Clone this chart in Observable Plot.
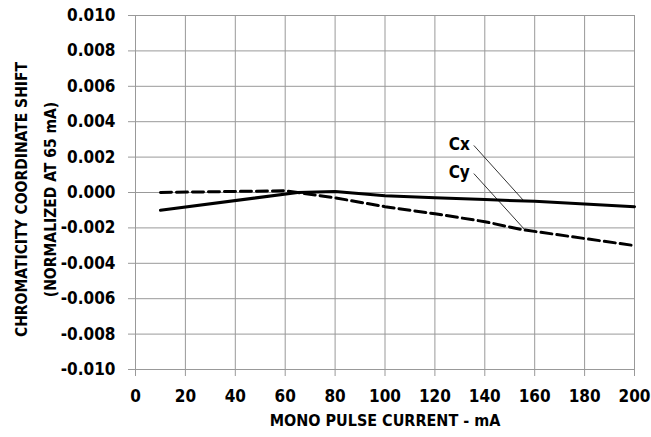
<!DOCTYPE html>
<html><head><meta charset="utf-8">
<script src="https://cdn.jsdelivr.net/npm/d3@7"></script>
<script src="https://cdn.jsdelivr.net/npm/@observablehq/plot@0.6"></script>
<style>
body{margin:0;background:#fff}
svg{font-family:"Liberation Sans Narrow","DejaVu Sans Condensed",sans-serif;font-weight:bold}
</style>
</head><body><div id="chart"></div>
<script>
const cxCurrent = [10, 65, 80, 100, 120, 140, 160, 180, 200];
const cxShift   = [-0.001, 0, 0.00005, -0.00018, -0.0003, -0.0004, -0.0005, -0.00065, -0.0008];
const cyCurrent = [10, 60, 65, 80, 100, 120, 140, 155, 180, 200];
const cyShift   = [0, 0.0001, 0, -0.0003, -0.0008, -0.0012, -0.00165, -0.0021, -0.0026, -0.003];
const xTicks = [0, 20, 40, 60, 80, 100, 120, 140, 160, 180, 200];
const yTicks = [-0.010, -0.008, -0.006, -0.004, -0.002, 0, 0.002, 0.004, 0.006, 0.008, 0.010];
const seriesNames = ["Cx", "Cy"];
const labelCurrent = [134, 134];
const labelShift = [0.0027, 0.0011];
const leaderFrom = [[135.6, 0.00266], [135.6, 0.00107]];
const leaderTo = [[155.5, -0.00045], [156, -0.0021]];
const xTitle = "MONO PULSE CURRENT - mA";
const yTitle = "CHROMATICITY COORDINATE SHIFT\n(NORMALIZED AT 65 mA)";

const cxData = cxCurrent.map((c, i) => ({current: c, shift: cxShift[i]}));
const cyData = cyCurrent.map((c, i) => ({current: c, shift: cyShift[i]}));
const notes = seriesNames.map((n, i) => ({
  name: n, x: labelCurrent[i], y: labelShift[i],
  x1: leaderFrom[i][0], y1: leaderFrom[i][1], x2: leaderTo[i][0], y2: leaderTo[i][1]
}));

const FS = 17;
const chart = Plot.plot({
  width: 651, height: 437,
  marginLeft: 135, marginRight: 17, marginTop: 15, marginBottom: 68,
  style: {fontFamily: '"Liberation Sans Narrow","DejaVu Sans Condensed",sans-serif', fontWeight: "bold", background: "#fff"},
  x: {domain: [0, 200]},
  y: {domain: [-0.01, 0.01]},
  marks: [
    Plot.gridX(xTicks, {stroke: "#999", strokeOpacity: 1, strokeWidth: 1}),
    Plot.gridY(yTicks, {stroke: "#999", strokeOpacity: 1, strokeWidth: 1}),
    Plot.axisX(xTicks, {tickSize: 7, tickPadding: 13, stroke: "#999", fill: "#000", fontSize: FS, label: null, tickFormat: d => String(d)}),
    Plot.axisY(yTicks, {tickSize: 7, tickPadding: 13, stroke: "#999", fill: "#000", fontSize: FS, label: null, tickFormat: d => d.toFixed(3)}),
    Plot.line(cxData, {x: "current", y: "shift", stroke: "#000", strokeWidth: 3}),
    Plot.line(cyData, {x: "current", y: "shift", stroke: "#000", strokeWidth: 3, strokeDasharray: "11,5"}),
    Plot.link(notes, {x1: "x1", y1: "y1", x2: "x2", y2: "y2", stroke: "#000", strokeWidth: 0.8}),
    Plot.text(notes, {x: "x", y: "y", text: "name", textAnchor: "end", fontSize: FS, fontWeight: "bold", fill: "#000"}),
    Plot.text([xTitle], {frameAnchor: "bottom", lineAnchor: "middle", dy: 51, fontSize: 16, fontWeight: "bold", fill: "#000"}),
    Plot.text([yTitle], {frameAnchor: "left", textAnchor: "middle", lineAnchor: "middle", rotate: -90, dx: -103, dy: 7, lineHeight: 1.85, fontSize: 15.5, fontWeight: "bold", fill: "#000"})
  ]
});
document.getElementById("chart").appendChild(chart);
</script>
</body></html>
